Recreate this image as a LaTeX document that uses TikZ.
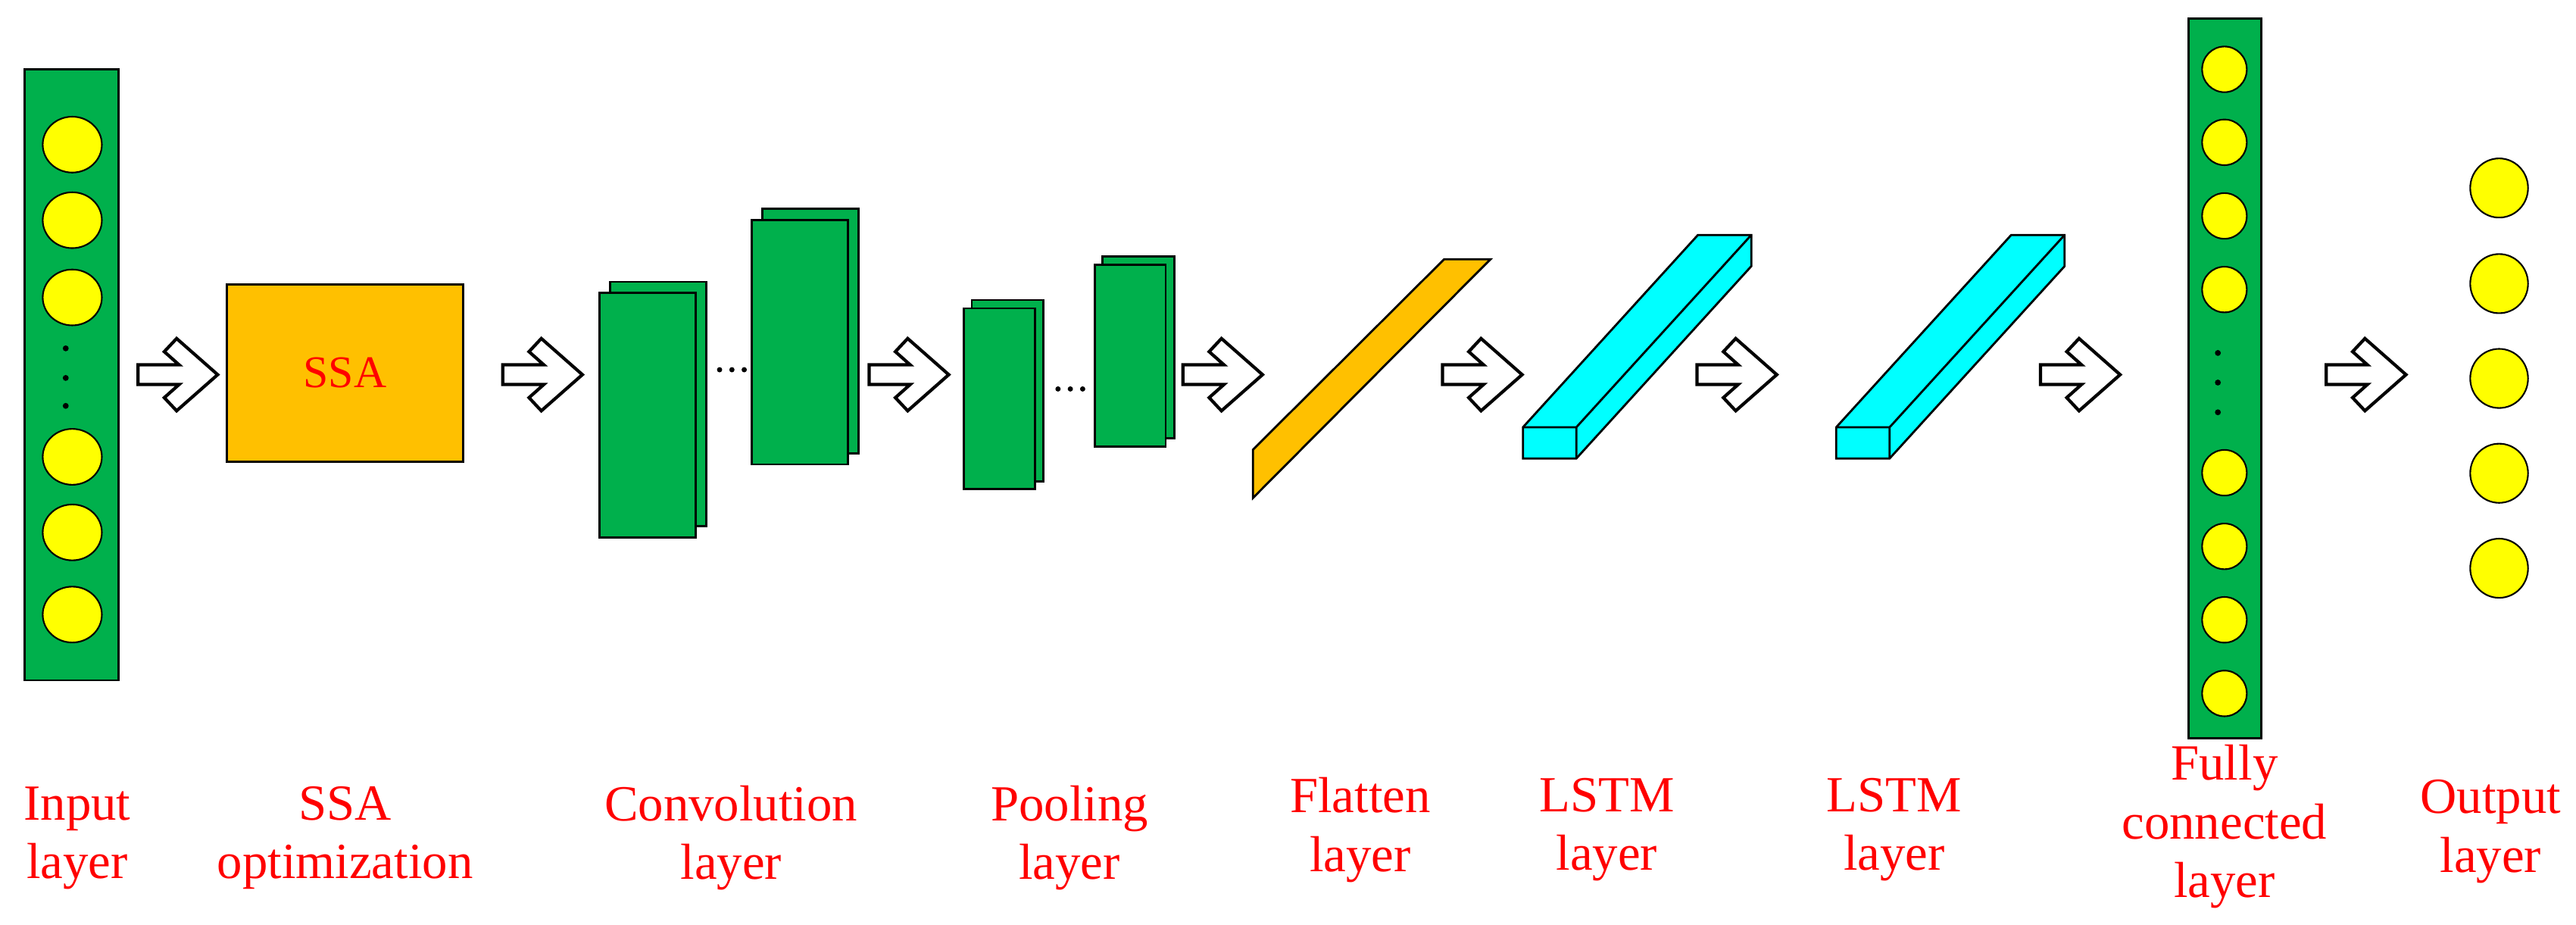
\documentclass[tikz,border=0pt]{standalone}
\usepackage{fontspec}
\setmainfont{Liberation Serif}
\definecolor{barGreen}{RGB}{0,176,76}
\definecolor{ssaOrange}{RGB}{255,192,0}
\definecolor{ballYellow}{RGB}{255,255,0}
\definecolor{lstmCyan}{RGB}{0,255,255}
\tikzset{
  lbl/.style={text=red, align=center, font=\fontsize{19}{22}\selectfont, inner sep=0pt},
  bar/.style={draw=black, fill=barGreen, line width=0.8pt},
  ball/.style={draw=black, fill=ballYellow, line width=0.6pt},
  sheet/.style={draw=black, fill=barGreen, line width=0.8pt},
  hollow/.style={draw=black, fill=white, line width=1.2pt, line join=miter},
  pics/blockarrow/.style={code={
    \draw [hollow] (0,-6) -- (25,-6) -- (16,-14) -- (23.5,-22) -- (48.5,0) --
      (23.5,22) -- (16,14) -- (25,6) -- (0,6) -- cycle;
  }}
}
\begin{document}
\begin{tikzpicture}[x=0.02169cm, y=-0.02169cm]
\useasboundingbox (0,0) rectangle (1568,562.5);

% input layer
\draw [bar] (15,42) rectangle (72,414);
\foreach \y in {88,134,181,278,324,374}
  \draw [ball] (44,\y) ellipse [x radius=18, y radius=17];
\foreach \y in {212,230,247}
  \fill (40,\y) circle [radius=1.8];

% SSA
\node [draw=black, fill=ssaOrange, line width=0.8pt, minimum width=144*0.02169cm,
  minimum height=108*0.02169cm, text=red, font=\fontsize{17}{20}\selectfont] (ssa) at (210,227) {SSA};

% convolution layer
\draw [sheet] (371.5,171.5) rectangle (430,320);
\draw [sheet] (365,178) rectangle (423.5,327);
\draw [sheet] (464,127) rectangle (522.5,276);
\draw [sheet] (457.5,134) rectangle (516,282.6);
\foreach \x in {438,445.5,453}
  \fill (\x,225) circle [radius=1.6];

% pooling layer
\draw [sheet] (591.5,182.6) rectangle (635,293);
\draw [sheet] (586.5,187.6) rectangle (630,297.6);
\draw [sheet] (671,156) rectangle (715,266.6);
\draw [sheet] (666.5,161) rectangle (709.5,271.6);
\foreach \x in {644,651.5,659}
  \fill (\x,236.7) circle [radius=1.6];

% flatten layer
\draw [draw=black, fill=ssaOrange, line width=0.8pt] (762.7,273.6) -- (879,157.8) --
  (907.2,157.8) -- (762.7,303) -- cycle;

% LSTM layers
\foreach \x in {927,1117.7}{
  \draw [draw=black, fill=lstmCyan, line width=0.8pt, line join=miter]
    (\x,260) -- (\x+106.5,143) -- (\x+139,143) -- (\x+139,162) -- (\x+32.5,279) --
    (\x,279) -- cycle;
  \draw [line width=0.8pt] (\x,260) -- (\x+32.5,260) -- (\x+32.5,279)
    (\x+32.5,260) -- (\x+139,143);
}

% fully connected layer
\draw [bar] (1332,11.2) rectangle (1376.5,449.4);
\foreach \y in {42.2,86.6,131.4,176.2,287.7,332.5,377.2,422}
  \draw [ball] (1354,\y) ellipse [x radius=13.6, y radius=13.9];
\foreach \y in {214.8,232.8,250.9}
  \fill (1350,\y) circle [radius=1.8];

% output layer
\foreach \y in {114.4,172.6,230.3,288,345.8}
  \draw [ball] (1521.2,\y) ellipse [x radius=17.6, y radius=18];

% arrows
\foreach \x in {84,306,529,720,878,1033,1242,1416}
  \pic at (\x,228) {blockarrow};

% labels
\node [lbl] (inputLbl) at (47,510) {Input\\layer};
\node [lbl] (ssaLbl) at (210,510) {SSA\\optimization};
\node [lbl] (convLbl) at (445,510) {Convolution\\layer};
\node [lbl] (poolLbl) at (651,510) {Pooling\\layer};
\node [lbl] (flatLbl) at (828,505) {Flatten\\layer};
\node [lbl] (lstmLblA) at (978,505) {LSTM\\layer};
\node [lbl] (lstmLblB) at (1153,505) {LSTM\\layer};
\node [lbl] (fcLbl) at (1354,503) {Fully\\connected\\layer};
\node [lbl] (outLbl) at (1516,506) {Output\\layer};
\end{tikzpicture}
\end{document}
